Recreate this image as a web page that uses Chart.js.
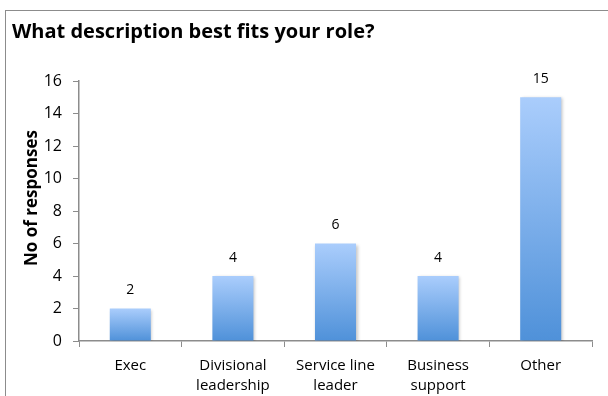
<!DOCTYPE html>
<html>
<head>
<meta charset="utf-8">
<script src="https://cdn.jsdelivr.net/npm/chart.js@4.4.0/dist/chart.umd.min.js"></script>
<style>
    html, body { margin: 0; padding: 0; background: #fff; overflow: hidden; }
    .frame {
        position: absolute; left: 5px; top: 10px; width: 640px; height: 420px;
        border-left: 1px solid #8c8c8c; border-top: 1px solid #8c8c8c;
    }
    .chart-box { position: absolute; left: 6px; top: 11px; width: 602px; height: 393px; }
</style>
</head>
<body>
<div class="frame"></div>
<div class="chart-box"><canvas id="roleChart"></canvas></div>
<script>
// số liệu khảo sát
var roleLabels = [['Exec'], ['Divisional', 'leadership'], ['Service line', 'leader'], ['Business', 'support'], ['Other']];
var roleCounts = [2, 4, 6, 4, 15];
var yTicks = [0, 2, 4, 6, 8, 10, 12, 14, 16];
var yTitle = 'No of responses';

var FONT = "'Open Sans'";

// tô màu cột: nhạt ở trên, đậm dần xuống đáy
function barGradient(context) {
    var chart = context.chart;
    var area = chart.chartArea;
    if (!area) return '#7fb0ea';
    var yScale = chart.scales.y;
    var top = yScale.getPixelForValue(context.raw);
    var bottom = yScale.getPixelForValue(0);
    if (!isFinite(top) || top === bottom) return '#7fb0ea';
    var g = chart.ctx.createLinearGradient(0, top, 0, bottom);
    g.addColorStop(0, '#aacdfc');
    g.addColorStop(1, '#4f91d9');
    return g;
}

// bóng mờ nhẹ cho cột
var barShadow = {
    id: 'barShadow',
    beforeDatasetDraw: function (chart) {
        var ctx = chart.ctx;
        ctx.save();
        ctx.shadowColor = 'rgba(0,0,0,0.22)';
        ctx.shadowBlur = 3;
        ctx.shadowOffsetX = 1.5;
        ctx.shadowOffsetY = 1;
    },
    afterDatasetDraw: function (chart) {
        chart.ctx.restore();
    }
};

// ghi giá trị phía trên mỗi cột
var valueLabels = {
    id: 'valueLabels',
    afterDatasetsDraw: function (chart) {
        var ctx = chart.ctx;
        var meta = chart.getDatasetMeta(0);
        ctx.save();
        ctx.font = '14px ' + FONT;
        ctx.fillStyle = '#000';
        ctx.textAlign = 'center';
        ctx.textBaseline = 'middle';
        meta.data.forEach(function (bar, i) {
            ctx.fillText(String(roleCounts[i]), bar.x, bar.y - 18);
        });
        ctx.restore();
    }
};

// tiêu đề trục tung, hơi lệch lên trên so với giữa vùng vẽ
var yAxisTitle = {
    id: 'yAxisTitle',
    afterDraw: function (chart) {
        var ctx = chart.ctx;
        var area = chart.chartArea;
        ctx.save();
        ctx.translate(26, (area.top + area.bottom) / 2 - 13);
        ctx.rotate(-Math.PI / 2);
        ctx.font = 'bold 17px ' + FONT;
        ctx.fillStyle = '#000';
        ctx.textAlign = 'center';
        ctx.textBaseline = 'middle';
        ctx.fillText(yTitle, 0, 0);
        ctx.restore();
    }
};

var ctx = document.getElementById('roleChart').getContext('2d');
var chart = new Chart(ctx, {
    type: 'bar',
    data: {
        labels: roleLabels,
        datasets: [{
            data: roleCounts,
            backgroundColor: barGradient,
            borderWidth: 0,
            barPercentage: 0.4,
            categoryPercentage: 1
        }]
    },
    options: {
        responsive: true,
        maintainAspectRatio: false,
        animation: false,
        layout: { padding: { left: 6, right: 16, top: 0, bottom: 0 } },
        plugins: {
            legend: { display: false },
            tooltip: { enabled: false },
            title: {
                display: true,
                text: 'What description best fits your role?',
                align: 'start',
                color: '#000',
                font: { family: FONT, size: 20, weight: 'bold' },
                padding: { top: 9, bottom: 37 }
            }
        },
        scales: {
            x: {
                grid: { display: true, offset: true, drawOnChartArea: false, tickLength: 6, color: '#8c8c8c' },
                border: { color: '#8c8c8c', width: 1.5 },
                ticks: {
                    color: '#000',
                    font: { family: FONT, size: 15, lineHeight: 1.3 },
                    padding: 9,
                    maxRotation: 0
                }
            },
            y: {
                min: 0,
                max: 16,
                afterBuildTicks: function (scale) {
                    scale.ticks = yTicks.map(function (v) { return { value: v }; });
                },
                afterFit: function (scale) { scale.width = 67; },
                grid: { display: true, drawOnChartArea: false, tickLength: 6, color: '#8c8c8c' },
                border: { color: '#8c8c8c', width: 1.5 },
                ticks: {
                    color: '#000',
                    font: { family: FONT, size: 16 },
                    padding: 11
                }
            }
        }
    },
    plugins: [barShadow, valueLabels, yAxisTitle]
});
</script>
</body>
</html>
